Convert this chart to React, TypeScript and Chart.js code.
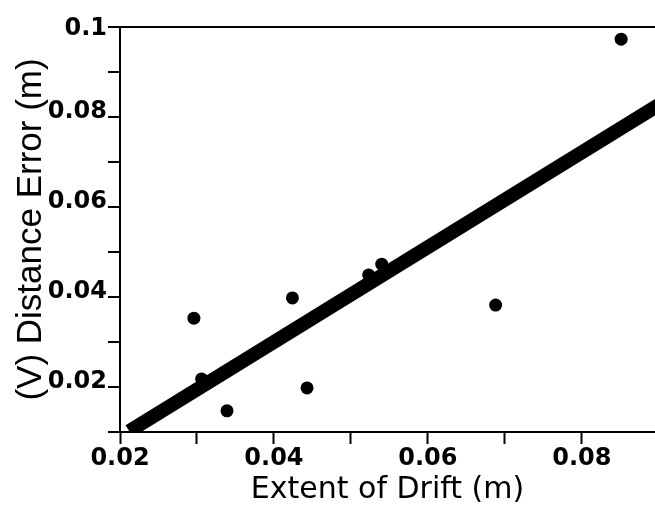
import React, { useEffect, useRef } from "react";
import { Chart, registerables } from "chart.js";

Chart.register(...registerables);

// Scatter observations: extent of drift (m) vs. (V) distance error (m)
const driftX = [0.0296, 0.0306, 0.0339, 0.0424, 0.0443, 0.0523, 0.054, 0.0688, 0.0851];
const errorY = [0.0353, 0.0218, 0.0147, 0.0398, 0.0198, 0.0449, 0.0473, 0.0382, 0.0973];

// Fitted line end points
const fitX = [0.0212, 0.09];
const fitY = [0.0102, 0.0827];

// Axis ticks
const xTickValues = [0.02, 0.03, 0.04, 0.05, 0.06, 0.07, 0.08];
const xTickLabels = ["0.02", "", "0.04", "", "0.06", "", "0.08"];
const yTickValues = [0.01, 0.02, 0.03, 0.04, 0.05, 0.06, 0.07, 0.08, 0.09, 0.1];
const yTickLabels = ["", "0.02", "", "0.04", "", "0.06", "", "0.08", "", "0.1"];

const LIB = "'Liberation Sans', Arial, Helvetica, sans-serif";
const DJV = "'DejaVu Sans', sans-serif";

export default function App() {
  const ref = useRef<HTMLCanvasElement | null>(null);

  useEffect(() => {
    if (!ref.current) return;
    const isTop = (i: number) => i === yTickValues.length - 1;
    const chart = new Chart(ref.current, {
      type: "scatter",
      data: {
        datasets: [
          {
            data: driftX.map((x, i) => ({ x, y: errorY[i] })),
            backgroundColor: "#000",
            borderColor: "#000",
            pointRadius: 6.5,
            pointBorderWidth: 0,
          },
          {
            data: fitX.map((x, i) => ({ x, y: fitY[i] })),
            showLine: true,
            borderColor: "#000",
            borderWidth: 14,
            borderCapStyle: "butt",
            pointRadius: 0,
          } as any,
        ],
      },
      options: {
        responsive: false,
        animation: false,
        devicePixelRatio: 1,
        layout: { autoPadding: false, padding: { top: 27, right: 0, bottom: 0, left: 0 } },
        plugins: { legend: { display: false }, tooltip: { enabled: false } },
        scales: {
          x: {
            type: "linear",
            min: 0.02,
            max: 0.0895,
            afterBuildTicks: (s: any) => {
              s.ticks = xTickValues.map((v) => ({ value: v }));
            },
            afterFit: (s: any) => {
              s.height = 80;
              s.paddingRight = 0;
              s.paddingLeft = 0;
            },
            ticks: {
              autoSkip: false,
              maxRotation: 0,
              padding: 0,
              color: "#000",
              font: { family: DJV, size: 24, weight: "bold" },
              callback: (v: any, i: number) => xTickLabels[i] ?? "",
            },
            grid: {
              drawOnChartArea: false,
              tickLength: 12,
              tickWidth: 2,
              tickColor: "#000",
            },
            border: { display: true, color: "#000", width: 2 },
            title: {
              display: true,
              text: "Extent of Drift (m)",
              color: "#000",
              font: { family: DJV, size: 30 },
              padding: { top: 0, bottom: 4 },
            },
          },
          y: {
            type: "linear",
            min: 0.01,
            max: 0.1,
            afterBuildTicks: (s: any) => {
              s.ticks = yTickValues.map((v) => ({ value: v }));
            },
            afterFit: (s: any) => {
              s.width = 120;
              s.paddingTop = 0;
              s.paddingBottom = 0;
            },
            ticks: {
              autoSkip: false,
              padding: 1,
              labelOffset: -5,
              color: "#000",
              font: (ctx: any) =>
                isTop(ctx.index)
                  ? { family: DJV, size: 24, weight: "bold", lineHeight: "13px" }
                  : { family: DJV, size: 24, weight: "bold" },
              callback: (v: any, i: number) => (isTop(i) ? ["", yTickLabels[i]] : yTickLabels[i] ?? ""),
            },
            grid: {
              drawOnChartArea: true,
              color: (ctx: any) =>
                ctx.tick && Math.abs(ctx.tick.value - 0.1) < 1e-9 ? "#000" : "rgba(0,0,0,0)",
              lineWidth: 2,
              tickLength: 12,
              tickWidth: 2,
              tickColor: "#000",
            },
            border: { display: true, color: "#000", width: 2 },
            title: {
              display: true,
              text: "(V) Distance Error (m)",
              color: "#000",
              font: { family: LIB, size: 35 },
              padding: { top: 10, bottom: 0 },
            },
          },
        },
      },
    });
    return () => chart.destroy();
  }, []);

  return (
    <div style={{ position: "fixed", left: 0, top: 0, width: 655, height: 512, background: "#fff" }}>
      <canvas ref={ref} width={655} height={512} style={{ display: "block", width: 655, height: 512 }} />
    </div>
  );
}
